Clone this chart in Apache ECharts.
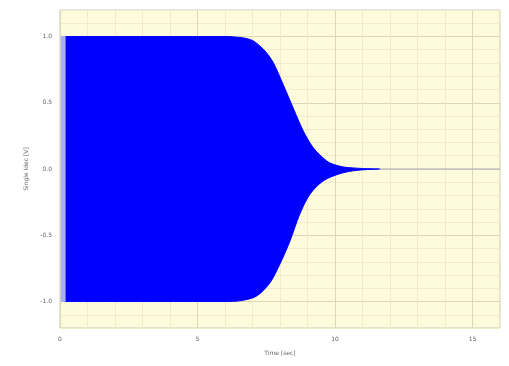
<!DOCTYPE html>
<html><head><meta charset="utf-8">
<script src="https://cdn.jsdelivr.net/npm/echarts@6/dist/echarts.min.js"></script>
<style>html,body{margin:0;padding:0;background:#fff}#c{width:509px;height:366px}</style>
</head><body><div id="c"></div>
<script>
// Envelope of the oscillating signal
const upperTimes = [0.2, 6.0, 6.64, 7.0, 7.26, 7.5, 7.75, 8.11, 8.48, 8.84, 9.21, 9.7, 9.93, 10.3, 10.66, 11.0, 11.6];
const upperValues = [1.0, 1.0, 0.99, 0.97, 0.93, 0.88, 0.805, 0.64, 0.46, 0.29, 0.16, 0.06, 0.036, 0.015, 0.008, 0.004, 0];
const lowerTimes = [0.2, 6.0, 6.53, 7.14, 7.63, 7.99, 8.36, 8.72, 9.09, 9.57, 10.18, 10.8, 11.64];
const lowerValues = [-1.0, -1.0, -0.995, -0.96, -0.86, -0.72, -0.545, -0.34, -0.19, -0.09, -0.035, -0.01, 0];
const startTimes = [0.03, 0.2];
const startUpper = [1.0, 1.0];
const startLower = [-1.0, -1.0];
const tailTimes = [11.6, 16];
const tailValues = [0, 0];
const xTickLabels = [0, 5, 10, 15];
const yTickLabels = [-1.0, -0.5, 0.0, 0.5, 1.0];

const zip = (a, b) => a.map((t, i) => [t, b[i]]);
const near = (v, list) => list.some(l => Math.abs(v - l) < 1e-6);
const light = '#efebcb', major = '#dcd8b4';

const chart = echarts.init(document.getElementById('c'), null, {renderer: 'canvas'});
chart.setOption({
  animation: false,
  grid: {left: 60, right: 9, top: 10, bottom: 38, show: true, backgroundColor: '#fdfbdb', borderColor: '#c9c9c0', borderWidth: 1},
  xAxis: {
    type: 'value', min: 0, max: 16, interval: 1,
    name: 'Time [sec]', nameLocation: 'middle', nameGap: 22,
    nameTextStyle: {fontSize: 6, color: '#666', fontFamily: 'DejaVu Sans'},
    axisLine: {show: false}, axisTick: {show: false},
    axisLabel: {fontSize: 6, color: '#666', margin: 8, fontFamily: 'DejaVu Sans',
      formatter: v => near(v, xTickLabels) ? String(Math.round(v)) : ''},
    splitLine: {show: true, lineStyle: {color: [major, light, light, light, light], width: 1}}
  },
  yAxis: {
    type: 'value', min: -1.2, max: 1.2, interval: 0.1,
    name: 'Single Idec [V]', nameLocation: 'middle', nameGap: 27,
    nameTextStyle: {fontSize: 6, color: '#666', fontFamily: 'DejaVu Sans'},
    axisLine: {show: false}, axisTick: {show: false},
    axisLabel: {fontSize: 6, color: '#666', margin: 8, fontFamily: 'DejaVu Sans',
      formatter: v => near(v, yTickLabels) ? (Math.abs(v) < 1e-6 ? '0.0' : v.toFixed(1)) : ''},
    splitLine: {show: true, lineStyle: {color: [light, light, major, light, light], width: 1}}
  },
  series: [
    {type: 'line', data: zip(startTimes, startUpper), showSymbol: false, symbol: 'none',
     lineStyle: {color: '#a7b0ee', width: 1}, areaStyle: {color: '#a7b0ee', opacity: 1}, z: 2},
    {type: 'line', data: zip(startTimes, startLower), showSymbol: false, symbol: 'none',
     lineStyle: {color: '#a7b0ee', width: 1}, areaStyle: {color: '#a7b0ee', opacity: 1}, z: 2},
    {type: 'line', data: zip(tailTimes, tailValues), showSymbol: false, symbol: 'none',
     lineStyle: {color: '#a9a9b6', width: 1}, z: 2},
    {type: 'line', data: zip(upperTimes, upperValues), showSymbol: false, symbol: 'none', smooth: 0.3,
     lineStyle: {color: '#0000ff', width: 1}, areaStyle: {color: '#0000ff', opacity: 1}, z: 3},
    {type: 'line', data: zip(lowerTimes, lowerValues), showSymbol: false, symbol: 'none', smooth: 0.3,
     lineStyle: {color: '#0000ff', width: 1}, areaStyle: {color: '#0000ff', opacity: 1}, z: 3}
  ]
});
</script></body></html>
